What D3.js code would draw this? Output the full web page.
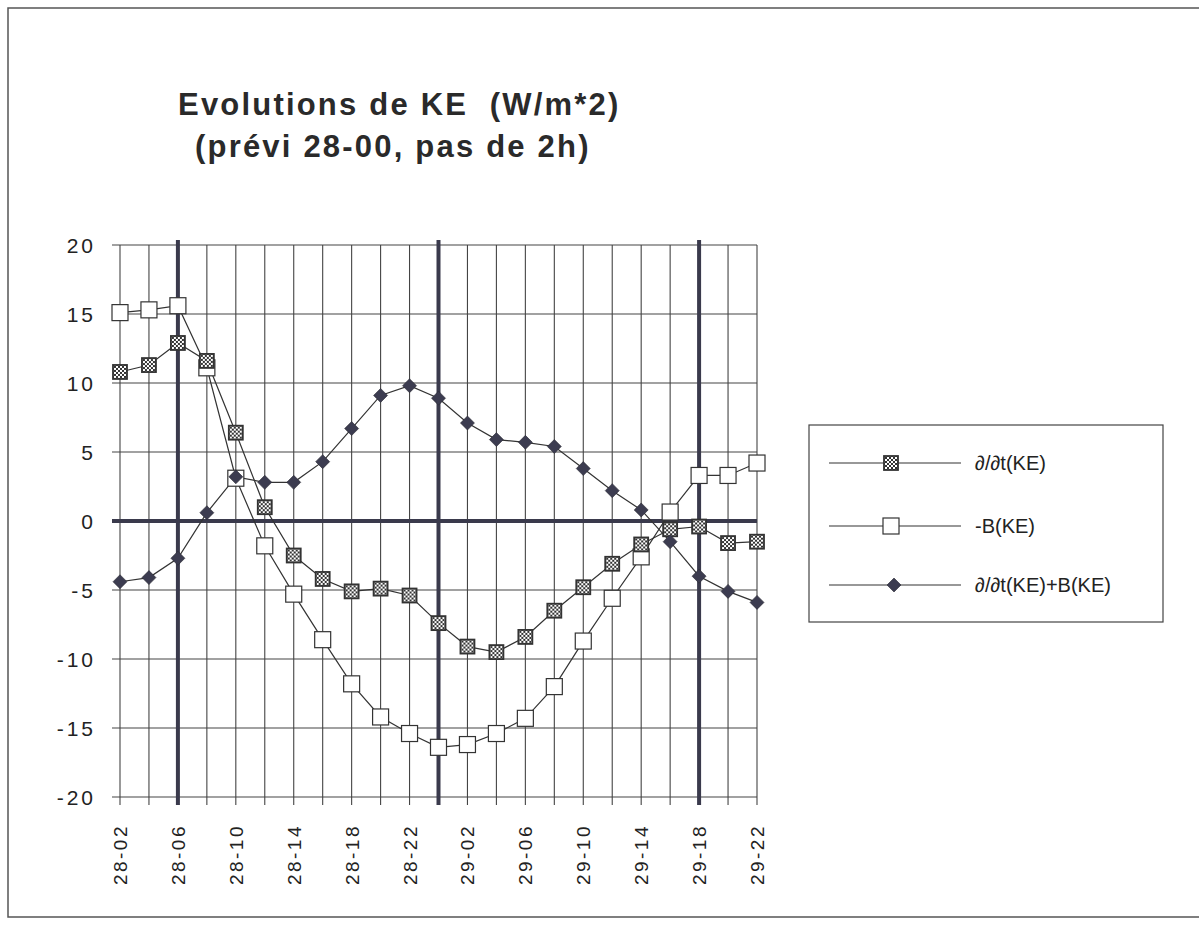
<!DOCTYPE html>
<html><head><meta charset="utf-8">
<script src="https://cdn.jsdelivr.net/npm/d3@7"></script>
<style>body{margin:0;background:#fff;} svg{display:block;}</style>
</head><body>
<script>
const categories = ["28-02","28-04","28-06","28-08","28-10","28-12","28-14","28-16","28-18","28-20","28-22",
  "29-00","29-02","29-04","29-06","29-08","29-10","29-12","29-14","29-16","29-18","29-20","29-22"];
const tickLabels = ["28-02","28-06","28-10","28-14","28-18","28-22","29-02","29-06","29-10","29-14","29-18","29-22"];
const yTicks = [-20,-15,-10,-5,0,5,10,15,20];
const markerLines = ["28-06","29-00","29-18"];
const dtKE = [10.8,11.3,12.9,11.6,6.4,1.0,-2.5,-4.2,-5.1,-4.9,-5.4,-7.4,-9.1,-9.5,-8.4,-6.5,-4.8,-3.1,-1.7,-0.6,-0.4,-1.6,-1.5];
const negB = [15.1,15.3,15.6,11.1,3.1,-1.8,-5.3,-8.6,-11.8,-14.2,-15.4,-16.4,-16.2,-15.4,-14.3,-12.0,-8.7,-5.6,-2.6,0.65,3.3,3.3,4.2];
const sumKE = [-4.4,-4.1,-2.7,0.6,3.2,2.8,2.8,4.3,6.7,9.1,9.8,8.9,7.1,5.9,5.7,5.4,3.8,2.2,0.8,-1.5,-4.0,-5.1,-5.9];
const seriesNames = ["\u2202/\u2202t(KE)","-B(KE)","\u2202/\u2202t(KE)+B(KE)"];

const W=1199,H=928;
const svg=d3.select("body").append("svg").attr("width",W).attr("height",H);
const defs=svg.append("defs");
const pat=defs.append("pattern").attr("id","chk").attr("patternUnits","userSpaceOnUse").attr("width",4).attr("height",4);
pat.append("rect").attr("width",4).attr("height",4).attr("fill","#fff");
pat.append("rect").attr("width",2).attr("height",2).attr("fill","#333");
pat.append("rect").attr("x",2).attr("y",2).attr("width",2).attr("height",2).attr("fill","#333");

// frame
svg.append("rect").attr("x",8).attr("y",8).attr("width",1200).attr("height",909)
  .attr("fill","none").attr("stroke","#555").attr("stroke-width",1.5);

const x=d3.scalePoint().domain(categories).range([120,757]);
const y=d3.scaleLinear().domain([-20,20]).range([797,245]);
const tf="Liberation Sans, Arial, sans-serif";

const g=svg.append("g");
g.selectAll(".hg").data(yTicks).join("line")
  .attr("x1",112).attr("x2",757).attr("y1",d=>y(d)).attr("y2",d=>y(d))
  .attr("stroke","#444").attr("stroke-width",1.1);
g.selectAll(".vg").data(categories).join("line")
  .attr("x1",d=>x(d)).attr("x2",d=>x(d)).attr("y1",245).attr("y2",805)
  .attr("stroke","#444").attr("stroke-width",1.1);
g.append("line").attr("x1",112).attr("x2",757).attr("y1",y(0)).attr("y2",y(0))
  .attr("stroke","#3a3a4c").attr("stroke-width",4);
g.selectAll(".vm").data(markerLines).join("line")
  .attr("x1",d=>x(d)).attr("x2",d=>x(d)).attr("y1",240).attr("y2",805)
  .attr("stroke","#3a3a4c").attr("stroke-width",4);

g.selectAll(".yl").data(yTicks).join("text")
  .attr("x",96).attr("y",d=>y(d)).attr("dy","0.36em").attr("text-anchor","end")
  .attr("font-family",tf).attr("font-size",21)
  .attr("letter-spacing","3px").attr("fill","#222").text(d=>d);
g.selectAll(".xl").data(tickLabels).join("text")
  .attr("transform",d=>`translate(${x(d)+7},824) rotate(-90)`)
  .attr("text-anchor","end")
  .attr("font-family",tf).attr("font-size",19)
  .attr("letter-spacing","2.5px").attr("fill","#222").text(d=>d);

const line=d3.line().x((d,i)=>x(categories[i])).y(d=>y(d));
const series=[dtKE,negB,sumKE];
series.forEach(s=>{
  g.append("path").datum(s).attr("d",line).attr("fill","none").attr("stroke","#333").attr("stroke-width",1.2);
});
function marker(sel,k){
  if(k===0){
    sel.append("rect").attr("x",-7).attr("y",-7).attr("width",14).attr("height",14)
      .attr("fill","url(#chk)").attr("stroke","#333").attr("stroke-width",1.8);
  } else if(k===1){
    sel.append("rect").attr("x",-8).attr("y",-8).attr("width",16).attr("height",16)
      .attr("fill","#fff").attr("stroke","#333").attr("stroke-width",1.2);
  } else {
    sel.append("path").attr("d","M0,-7L7,0L0,7L-7,0Z").attr("fill","#3c3c50").attr("stroke","#2a2a33").attr("stroke-width",0.6);
  }
}
[1,0,2].forEach(k=>{
  series[k].forEach((v,i)=>{
    const m=g.append("g").attr("transform",`translate(${x(categories[i])},${y(v)})`);
    marker(m,k);
  });
});

svg.append("text").attr("x",178).attr("y",115).attr("font-family",tf).attr("font-weight","bold")
  .attr("font-size",31).attr("letter-spacing","2.2px").attr("fill","#2a2a2a").text("Evolutions de KE\u00a0\u00a0(W/m*2)");
svg.append("text").attr("x",195).attr("y",157).attr("font-family",tf).attr("font-weight","bold")
  .attr("font-size",31).attr("letter-spacing","2.2px").attr("fill","#2a2a2a").text("(prévi 28-00, pas de 2h)");

const lg=svg.append("g");
lg.append("rect").attr("x",809).attr("y",425).attr("width",354).attr("height",197)
  .attr("fill","#fff").attr("stroke","#444").attr("stroke-width",1.2);
const rows=[463,526,585];
seriesNames.forEach((n,k)=>{
  lg.append("line").attr("x1",829).attr("x2",961).attr("y1",rows[k]).attr("y2",rows[k]).attr("stroke","#333").attr("stroke-width",1.1);
  const m=lg.append("g").attr("transform",`translate(${k===2?894:891},${rows[k]})`);
  marker(m,k);
  lg.append("text").attr("x",975).attr("y",rows[k]).attr("dy","0.36em").attr("font-family",tf)
    .attr("font-size",20).attr("fill","#222").text(n);
});
</script>
</body></html>
